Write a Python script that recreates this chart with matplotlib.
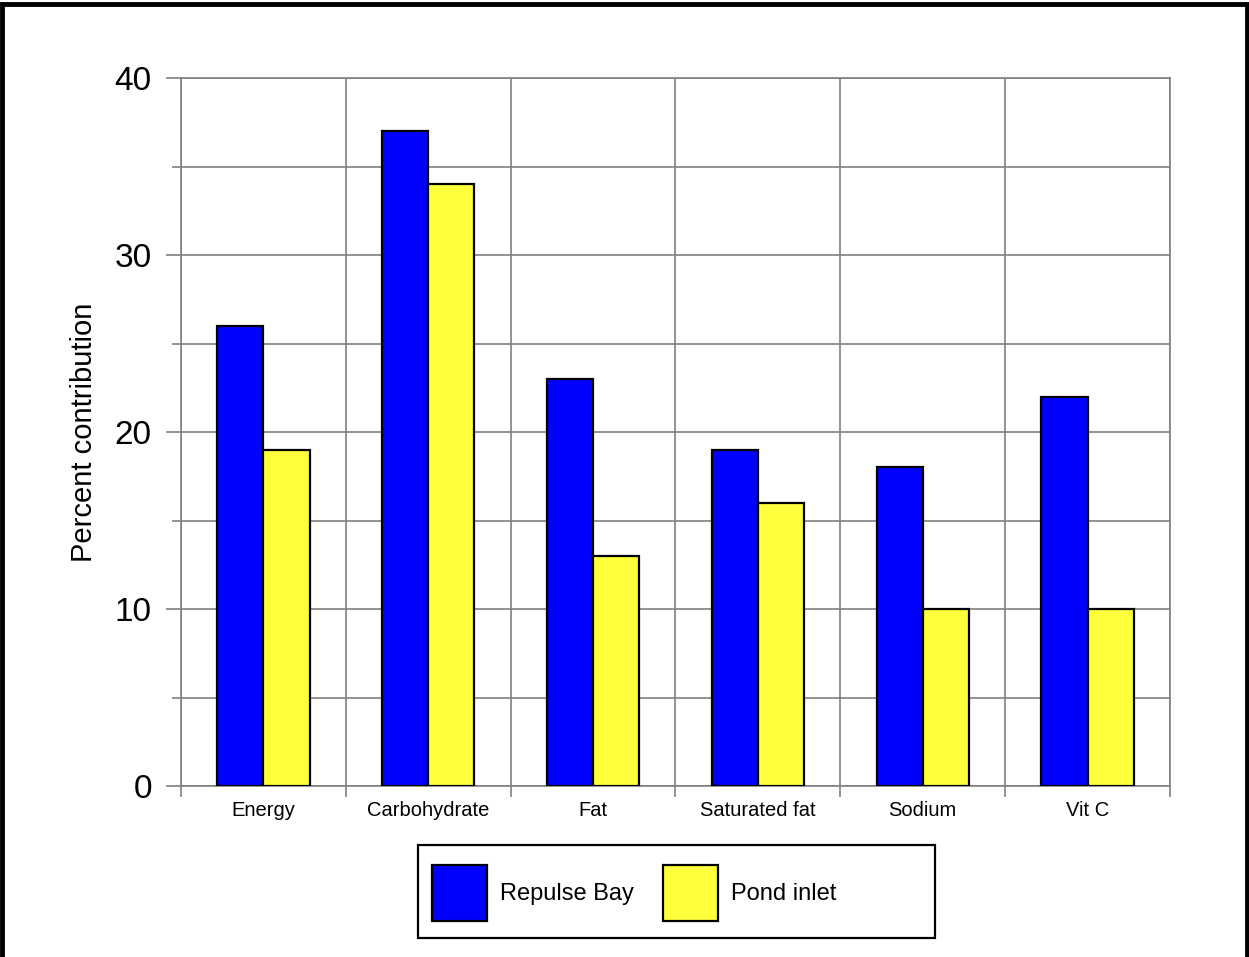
import numpy as np
import matplotlib
matplotlib.use("Agg")
from matplotlib import pyplot as plt
from matplotlib.patches import Rectangle

# Data
categories = ["Energy", "Carbohydrate", "Fat", "Saturated fat", "Sodium", "Vit C"]
repulse_bay = [26, 37, 23, 19, 18, 22]
pond_inlet = [19, 34, 13, 16, 10, 10]
series_names = ["Repulse Bay", "Pond inlet"]

plt.rcParams['font.family'] = ['Liberation Sans', 'DejaVu Sans']

W, H = 1249, 957
fig = plt.figure(figsize=(W / 100, H / 100), dpi=100)
ax = fig.add_axes([181 / W, 1 - 786 / H, (1170 - 181) / W, (786 - 78) / H])

grid_col = "#808080"
x = np.arange(len(categories))
w = 0.28
ax.bar(x - w / 2, repulse_bay, width=w, color="#0000ff", edgecolor="black",
       linewidth=1.6, label=series_names[0], zorder=3)
ax.bar(x + w / 2, pond_inlet, width=w, color="#ffff3c", edgecolor="black",
       linewidth=1.6, label=series_names[1], zorder=3)

ax.set_xlim(-0.5, len(categories) - 0.5)
ax.set_ylim(0, 40)

# y axis ticks and grid
ax.set_yticks([0, 10, 20, 30, 40])
ax.set_yticks([5, 15, 25, 35], minor=True)
ax.tick_params(axis="y", which="major", length=11, width=1.2, color=grid_col,
               labelsize=24, pad=10)
ax.tick_params(axis="y", which="minor", length=6.5, width=1.2, color=grid_col)
ax.yaxis.grid(True, which="both", color=grid_col, linewidth=1.2)

# x axis: labels at centres, ticks/grid at category boundaries
ax.set_xticks(x)
ax.set_xticklabels(categories)
ax.set_xticks(np.arange(len(categories) + 1) - 0.5, minor=True)
ax.tick_params(axis="x", which="major", length=0, labelsize=14.5, pad=11)
ax.tick_params(axis="x", which="minor", length=8, width=1.2, color=grid_col)
ax.xaxis.grid(True, which="minor", color=grid_col, linewidth=1.2)
ax.set_axisbelow(True)

for s in ax.spines.values():
    s.set_color(grid_col)
    s.set_linewidth(1.2)

ax.set_ylabel("Percent contribution", fontsize=21, labelpad=12)

# legend: frameless legend plus a separate box (box padding is uneven)
leg = fig.legend(loc="center left", bbox_to_anchor=(432 / W, 1 - 893 / H),
                 ncol=2, fontsize=17, frameon=False,
                 handlelength=2.33, handleheight=3.27,
                 handletextpad=0.55, columnspacing=1.23, borderpad=0, borderaxespad=0)
for p in leg.get_patches():
    p.set_linewidth(1.6)
fig.patches.append(Rectangle((418 / W, 1 - 938 / H), (935 - 418) / W, (938 - 845) / H,
                             transform=fig.transFigure, fill=False,
                             edgecolor="black", linewidth=1.6))

# outer frame around the whole figure
fig.patches.append(Rectangle((0.002, -0.01), 0.996, 1.006, transform=fig.transFigure,
                             fill=False, edgecolor="black", linewidth=3.5))

fig.savefig("out.png", dpi=100)
